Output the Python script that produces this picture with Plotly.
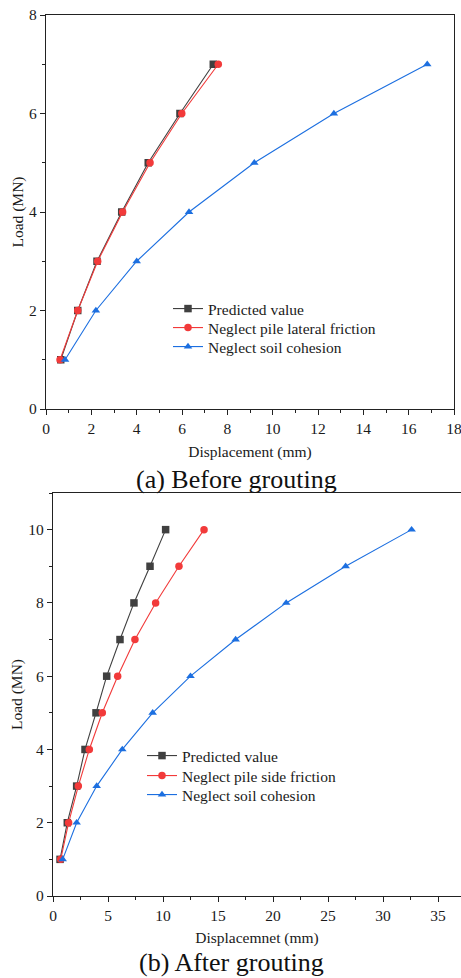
import plotly.graph_objects as go

W, H = 461, 978

# ---- Data: (a) Before grouting ----
load_a = [1, 2, 3, 4, 5, 6, 7]
pred_a = [0.65, 1.40, 2.25, 3.34, 4.51, 5.91, 7.38]
fric_a = [0.62, 1.40, 2.28, 3.38, 4.59, 5.99, 7.60]
coh_a = [0.84, 2.20, 4.00, 6.31, 9.19, 12.70, 16.82]

# ---- Data: (b) After grouting ----
load_b = [1, 2, 3, 4, 5, 6, 7, 8, 9, 10]
pred_b = [0.64, 1.30, 2.15, 2.91, 3.91, 4.88, 6.09, 7.36, 8.82, 10.24]
fric_b = [0.70, 1.42, 2.30, 3.30, 4.48, 5.88, 7.45, 9.33, 11.45, 13.73]
coh_b = [0.88, 2.15, 3.97, 6.30, 9.06, 12.50, 16.60, 21.20, 26.60, 32.60]

names_a = ["Predicted value", "Neglect pile lateral friction", "Neglect soil cohesion"]
names_b = ["Predicted value", "Neglect pile side friction", "Neglect soil cohesion"]

BLACK = "#404040"
RED = "#f23a3a"
BLUE = "#1c6fe0"
FONT = "Liberation Serif, Times New Roman, serif"
TXT = "#1a1a1a"

fig = go.Figure()

def add(x, y, name, color, symbol, xa, ya, legend):
    fig.add_trace(go.Scatter(
        x=x, y=y, name=name, mode="lines+markers",
        line=dict(color=color, width=1.1),
        marker=dict(symbol=symbol, size=7.5, color=color),
        xaxis=xa, yaxis=ya, legend=legend,
    ))

add(pred_a, load_a, names_a[0], BLACK, "square", "x", "y", "legend")
add(fric_a, load_a, names_a[1], RED, "circle", "x", "y", "legend2")
add(coh_a, load_a, names_a[2], BLUE, "triangle-up", "x", "y", "legend3")

add(pred_b, load_b, names_b[0], BLACK, "square", "x2", "y2", "legend4")
add(fric_b, load_b, names_b[1], RED, "circle", "x2", "y2", "legend5")
add(coh_b, load_b, names_b[2], BLUE, "triangle-up", "x2", "y2", "legend6")

TICK_FS = 15.5
TITLE_FS = 15.5

axis_common = dict(
    showgrid=False, zeroline=False, showline=True, linecolor="#222",
    linewidth=1.2, mirror=True, ticks="outside", ticklen=5, tickwidth=1,
    tickcolor="#222", tickfont=dict(family=FONT, size=TICK_FS, color=TXT),
    automargin=False, ticklabeloverflow="allow",
)
minor_common = dict(ticks="outside", ticklen=3, tickcolor="#222")

def dom_x(a, b):
    return [a / W, b / W]

def dom_y(top, bottom):
    return [1 - bottom / H, 1 - top / H]

def leg(xpx, ypx):
    return dict(x=xpx / W, y=1 - ypx / H, xanchor="left", yanchor="middle",
                bgcolor="rgba(0,0,0,0)", borderwidth=0,
                font=dict(family=FONT, size=15.5, color=TXT),
                itemwidth=30)

fig.update_layout(
    width=W, height=H, margin=dict(l=0, r=0, t=0, b=0, autoexpand=False),
    paper_bgcolor="white", plot_bgcolor="white",
    font=dict(family=FONT, color=TXT),
    xaxis=dict(axis_common, domain=dom_x(46, 454), range=[0, 18], dtick=2,
               minor=dict(minor_common, dtick=1),
               title=dict(text="Displacement (mm)", font=dict(family=FONT, size=TITLE_FS), standoff=10),
               anchor="y"),
    yaxis=dict(axis_common, domain=dom_y(15, 409), range=[0, 8], dtick=2,
               minor=dict(minor_common, dtick=1),
               title=dict(text="Load (MN)", font=dict(family=FONT, size=TITLE_FS), standoff=1),
               anchor="x"),
    xaxis2=dict(axis_common, domain=dom_x(53, 461), range=[0, 37.09], dtick=5,
                minor=dict(minor_common, dtick=2.5),
                title=dict(text="Displacemnet (mm)", font=dict(family=FONT, size=TITLE_FS), standoff=9),
                anchor="y2"),
    yaxis2=dict(axis_common, domain=dom_y(493, 896), range=[0, 11], dtick=2,
                minor=dict(minor_common, dtick=1),
                title=dict(text="Load (MN)", font=dict(family=FONT, size=TITLE_FS), standoff=1),
                anchor="x2"),
    legend=leg(168, 309),
    legend2=leg(168, 328),
    legend3=leg(168, 347),
    legend4=leg(142, 756),
    legend5=leg(142, 776),
    legend6=leg(142, 795),
    showlegend=True,
)

fig.add_annotation(text="(a) Before grouting", x=236 / W, y=1 - 479 / H,
                   xref="paper", yref="paper", showarrow=False, yanchor="middle",
                   font=dict(family=FONT, size=26, color="#111"))
fig.add_annotation(text="(b) After grouting", x=231 / W, y=1 - 962 / H,
                   xref="paper", yref="paper", showarrow=False, yanchor="middle",
                   font=dict(family=FONT, size=26, color="#111"))

fig.write_html(
    "out.html",
    post_script="document.body.style.margin='0';document.body.style.overflow='hidden';",
)
